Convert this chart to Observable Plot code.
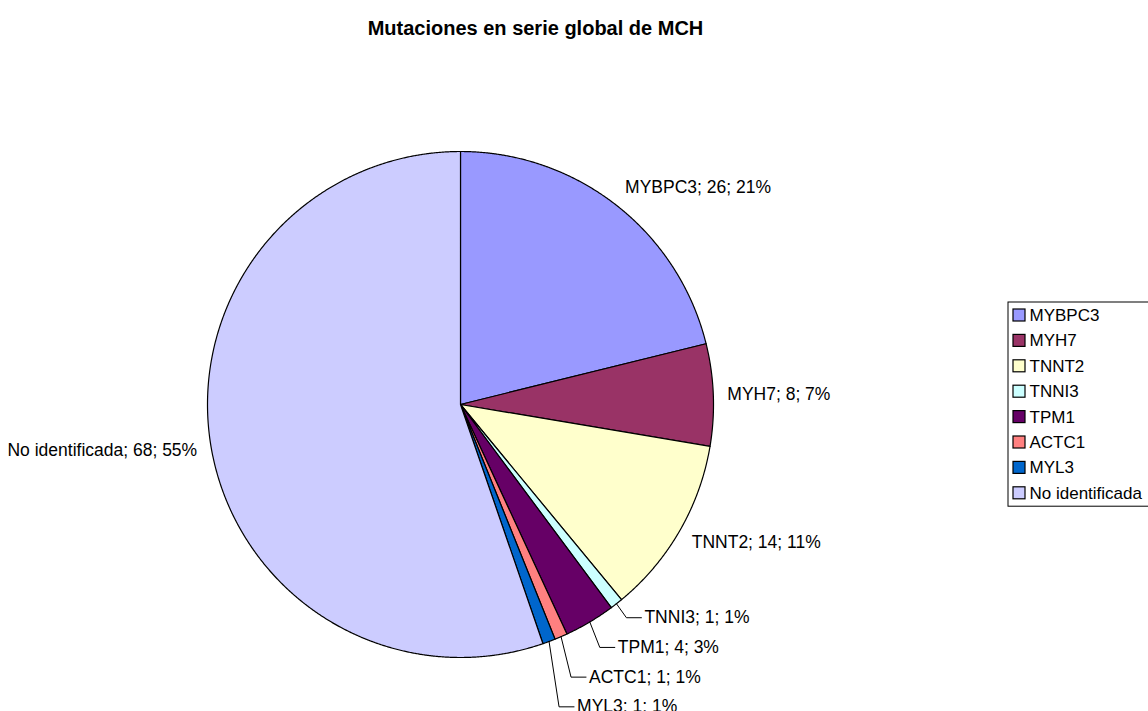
<!DOCTYPE html>
<html><head><meta charset="utf-8">
<script src="https://cdn.jsdelivr.net/npm/d3@7"></script>
<script src="https://cdn.jsdelivr.net/npm/@observablehq/plot@0.6"></script>
<style>body{margin:0;background:#fff;} svg{font-family:"Liberation Sans",Arial,sans-serif;}</style>
</head><body><div id="chart"></div>
<script>
const title = "Mutaciones en serie global de MCH";
const genes = ["MYBPC3","MYH7","TNNT2","TNNI3","TPM1","ACTC1","MYL3","No identificada"];
const counts = [26, 8, 14, 1, 4, 1, 1, 68];
const colors = ["#9999FF","#993366","#FFFFCC","#CCFFFF","#660066","#FF8080","#0066CC","#CCCCFF"];

const W = 1148, H = 711, cx = 460, cy = 404, R = 253;
const total = d3.sum(counts);
const arcs = d3.pie().sort(null).value(d => d)(counts);

// slice outlines
const slicePts = [];
arcs.forEach((p, i) => {
  const base = {gene: genes[i], color: colors[i]};
  slicePts.push({...base, x: cx, y: cy});
  const n = Math.max(2, Math.ceil((p.endAngle - p.startAngle) / 0.004));
  for (let k = 0; k <= n; k++) {
    const a = p.startAngle + (p.endAngle - p.startAngle) * k / n;
    slicePts.push({...base, x: cx + R * Math.sin(a), y: cy - R * Math.cos(a)});
  }
  slicePts.push({...base, x: cx, y: cy});
});

// labels
const labels = [], leaders = [];
let prevY = -Infinity;
arcs.forEach((p, i) => {
  const text = `${genes[i]}; ${counts[i]}; ${Math.round(counts[i] / total * 100)}%`;
  const mid = (p.startAngle + p.endAngle) / 2;
  const s = Math.sin(mid), c = Math.cos(mid);
  if (counts[i] / total < 0.05) {
    const ex = cx + R * s, ey = cy - R * c;
    const ly = Math.max(ey + 14, prevY + 29.7);
    prevY = ly;
    const bx = ex + 10;
    leaders.push({id: i, x: ex, y: ey}, {id: i, x: bx, y: ly}, {id: i, x: bx + 15, y: ly});
    labels.push({text, x: bx + 18, y: ly, anchor: "start"});
  } else {
    const d = R + 14;
    const px = cx + d * s, py = cy - d * c;
    labels.push({text, x: px, y: py - 8.5 * c, anchor: s >= 0 ? "start" : "end"});
  }
});

// legend
const legendRows = genes.map((g, i) => ({gene: g, color: colors[i], y: 315 + 25.4 * i}));

const chart = Plot.plot({
  width: W, height: H,
  margin: 0,
  x: {domain: [0, W], range: [0, W], axis: null},
  y: {domain: [0, H], range: [0, H], axis: null},
  style: {fontFamily: '"Liberation Sans", Arial, sans-serif', background: "#fff"},
  marks: [
    Plot.line(slicePts, {x: "x", y: "y", z: "gene", fill: "color", stroke: "#000", strokeWidth: 1.2, strokeLinejoin: "round"}),
    Plot.line(leaders, {x: "x", y: "y", z: "id", stroke: "#000", strokeWidth: 1}),
    Plot.text(labels.filter(d => d.anchor === "start"), {x: "x", y: "y", text: "text", textAnchor: "start", fontSize: 17.5, fill: "#000"}),
    Plot.text(labels.filter(d => d.anchor === "end"), {x: "x", y: "y", text: "text", textAnchor: "end", fontSize: 17.5, fill: "#000"}),
    Plot.text([title], {x: W * 0.466, y: 28, text: d => d, fontSize: 20, fontWeight: "bold", fill: "#000"}),
    Plot.rect([0], {x1: 1008, x2: W + 10, y1: 302, y2: 302 + 25.4 * genes.length + 1, fill: "#fff", stroke: "#000", strokeWidth: 1}),
    Plot.rect(legendRows, {x1: 1013, x2: 1025, y1: d => d.y - 6, y2: d => d.y + 6, fill: "color", stroke: "#000", strokeWidth: 1.2}),
    Plot.text(legendRows, {x: 1029, y: "y", text: "gene", textAnchor: "start", fontSize: 17, fill: "#000"})
  ]
});
document.getElementById("chart").appendChild(chart);
</script>
</body></html>
